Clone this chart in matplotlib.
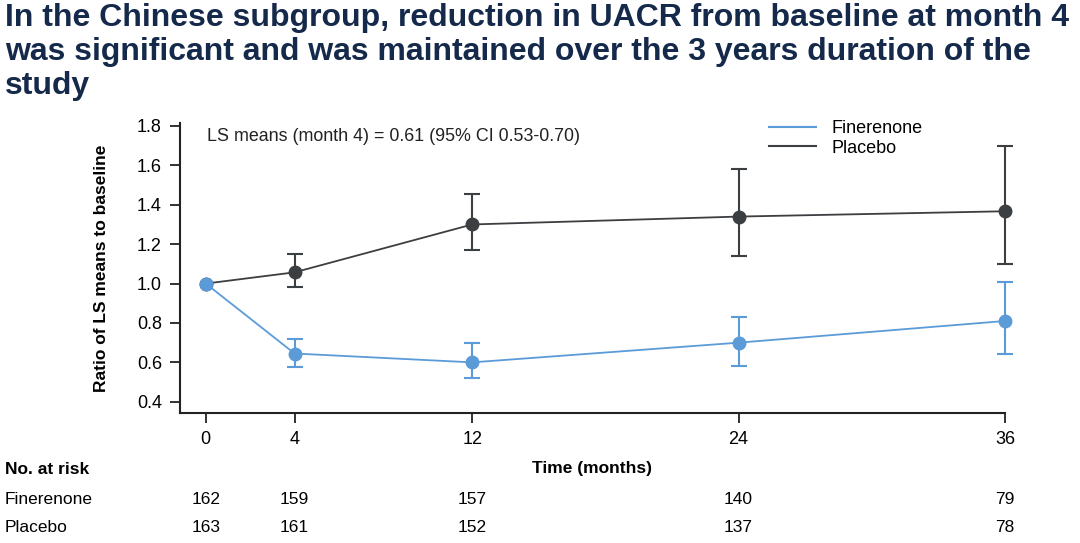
import numpy as np
import matplotlib.pyplot as plt
from matplotlib.lines import Line2D

plt.rcParams['font.family'] = ['Liberation Sans', 'DejaVu Sans']

# datos
months = [0, 4, 12, 24, 36]
fin_mean = [1.0, 0.645, 0.60, 0.70, 0.81]
fin_low = [1.0, 0.575, 0.52, 0.58, 0.645]
fin_high = [1.0, 0.72, 0.697, 0.83, 1.01]
pla_mean = [1.0, 1.057, 1.30, 1.34, 1.367]
pla_low = [1.0, 0.985, 1.17, 1.14, 1.10]
pla_high = [1.0, 1.15, 1.455, 1.58, 1.70]
risk_fin = [162, 159, 157, 140, 79]
risk_pla = [163, 161, 152, 137, 78]
yticks = [0.4, 0.6, 0.8, 1.0, 1.2, 1.4, 1.6, 1.8]

blue = '#5b9bd8'
dark = '#3c3f42'
navy = '#15294a'

fig = plt.figure(figsize=(10.8, 5.43), dpi=100)
ax = fig.add_axes([180 / 1080, 1 - 413 / 543, 825 / 1080, 290 / 543])

m = np.array(months)

def draw(mean, low, high, color, z):
    mean = np.array(mean)
    err = np.array([mean - np.array(low), np.array(high) - mean])
    ax.plot(m, mean, color=color, lw=1.3, zorder=z, clip_on=False)
    _, caps, bars = ax.errorbar(m[1:], mean[1:], yerr=err[:, 1:], fmt='o', color=color,
                                ms=9, capsize=6, elinewidth=1.5, capthick=1.5, zorder=z,
                                clip_on=False)
    for c in caps:
        c.set_clip_on(False)
    for b in bars:
        b.set_clip_on(False)
    ax.plot(m[:1], mean[:1], 'o', color=color, ms=9, zorder=z, clip_on=False)

draw(pla_mean, pla_low, pla_high, dark, 3)
draw(fin_mean, fin_low, fin_high, blue, 4)

ax.set_xlim(-1.16, 36)
ax.set_ylim(0.343, 1.815)
ax.set_xticks(months)
ax.set_yticks(yticks)
ax.set_yticklabels([f'{v:.1f}' for v in yticks])
ax.tick_params(axis='both', labelsize=13, length=7, width=1.3, color='#222222', pad=6)
for s in ['top', 'right']:
    ax.spines[s].set_visible(False)
for s in ['left', 'bottom']:
    ax.spines[s].set_linewidth(1.5)
    ax.spines[s].set_color('#222222')

ax.set_xlabel('Time (months)', fontsize=12.5, fontweight='bold', labelpad=9)
ax.set_ylabel('Ratio of LS means to baseline', fontsize=12.5, fontweight='bold', labelpad=20)

ax.text(0.033, 0.953, 'LS means (month 4) = 0.61 (95% CI 0.53-0.70)', transform=ax.transAxes,
        fontsize=12.9, va='center', ha='left', color='#222222')

handles = [Line2D([], [], color=blue, lw=1.5), Line2D([], [], color=dark, lw=1.5)]
ax.legend(handles, ['Finerenone', 'Placebo'], loc='upper left', bbox_to_anchor=(0.694, 1.065),
          frameon=False, fontsize=13, handlelength=2.6, handletextpad=0.9, labelspacing=0.12)

# tabla de pacientes en riesgo
tr = ax.get_xaxis_transform()
for x, a, b in zip(months, risk_fin, risk_pla):
    ax.text(x, (413 - 500) / 290, str(a), transform=tr, ha='center', va='center', fontsize=12.5)
    ax.text(x, (413 - 528) / 290, str(b), transform=tr, ha='center', va='center', fontsize=12.5)
fig.text(5 / 1080, 1 - 470 / 543, 'No. at risk', fontsize=12.5, fontweight='bold', va='center')
fig.text(5 / 1080, 1 - 500 / 543, 'Finerenone', fontsize=12.5, va='center')
fig.text(5 / 1080, 1 - 528 / 543, 'Placebo', fontsize=12.5, va='center')

title = ('In the Chinese subgroup, reduction in UACR from baseline at month 4\n'
         'was significant and was maintained over the 3 years duration of the\n'
         'study')
fig.text(5 / 1080, 1 - 3 / 543, title, fontsize=23, fontweight='bold', color=navy,
         va='top', ha='left', linespacing=1.17)

fig.savefig('out.png', dpi=100, facecolor='white')
